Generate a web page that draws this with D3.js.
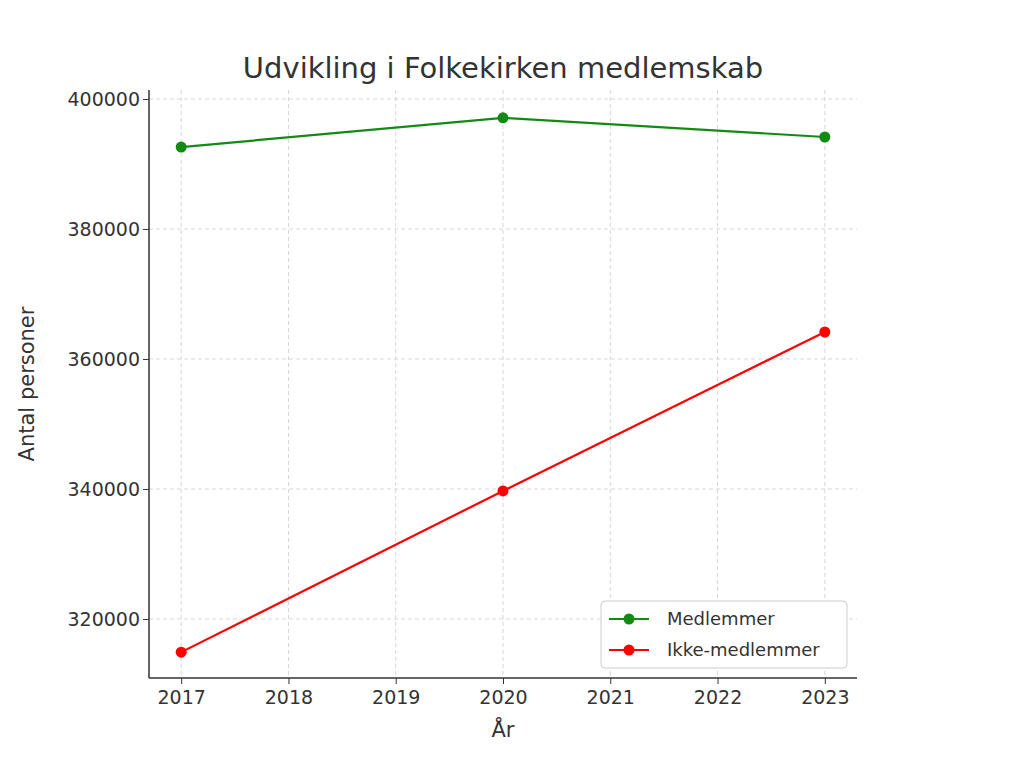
<!DOCTYPE html>
<html>
<head>
<meta charset="utf-8">
<script src="https://cdn.jsdelivr.net/npm/d3@7"></script>
<style>
  body { margin: 0; background: #fff; }
  text { font-family: "DejaVu Sans", sans-serif; fill: #333; }
</style>
</head>
<body>
<svg id="chart" width="1018" height="768"></svg>
<script>
const years = [2017, 2020, 2023];
const medlemmer = [392600, 397100, 394150];
const ikkeMedlemmer = [314900, 339700, 364150];
const yTicks = [320000, 340000, 360000, 380000, 400000];
const xTicks = [2017, 2018, 2019, 2020, 2021, 2022, 2023];

const svg = d3.select("#chart");
const pLeft = 149, pRight = 857, pTop = 90, pBottom = 678;

const x = d3.scaleLinear().domain([2016.7, 2023.3]).range([pLeft, pRight]);
const y = d3.scaleLinear().domain([310920, 401380]).range([pBottom, pTop]);

// grid
svg.append("g").selectAll("line").data(xTicks).enter().append("line")
    .attr("x1", d => x(d)).attr("x2", d => x(d)).attr("y1", pTop).attr("y2", pBottom)
    .attr("stroke", "#ccc").attr("stroke-dasharray", "4,3").attr("stroke-width", 0.8);
svg.append("g").selectAll("line").data(yTicks).enter().append("line")
    .attr("y1", d => y(d)).attr("y2", d => y(d)).attr("x1", pLeft).attr("x2", pRight)
    .attr("stroke", "#ccc").attr("stroke-dasharray", "4,3").attr("stroke-width", 0.8);

// axes
const xAxis = svg.append("g").attr("transform", `translate(0,${pBottom})`)
    .call(d3.axisBottom(x).tickValues(xTicks).tickFormat(d3.format("d")).tickSize(6).tickSizeOuter(0));
const yAxis = svg.append("g").attr("transform", `translate(${pLeft},0)`)
    .call(d3.axisLeft(y).tickValues(yTicks).tickFormat(d3.format("d")).tickSize(6).tickSizeOuter(0));
[xAxis, yAxis].forEach(a => {
    a.selectAll("text").style("font-size", "19px").attr("fill", "#333");
    a.selectAll("line").attr("stroke", "#333");
    a.select(".domain").attr("stroke", "#333").attr("stroke-width", 1.5);
});
xAxis.select(".domain").attr("d", `M${pLeft},0H${pRight}`);
yAxis.select(".domain").attr("d", `M0,${pBottom}V${pTop}`);
xAxis.selectAll("text").attr("dy", "0.9em");

// labels
svg.append("text").attr("x", (pLeft + pRight) / 2).attr("y", 78).attr("text-anchor", "middle")
    .style("font-size", "29px").text("Udvikling i Folkekirken medlemskab");
svg.append("text").attr("x", (pLeft + pRight) / 2).attr("y", 737).attr("text-anchor", "middle")
    .style("font-size", "21px").text("År");
svg.append("text").attr("transform", `translate(34,${(pTop + pBottom) / 2}) rotate(-90)`)
    .attr("text-anchor", "middle").style("font-size", "21px").text("Antal personer");

// series
const series = [
    { name: "Medlemmer", values: medlemmer, color: "#138a13" },
    { name: "Ikke-medlemmer", values: ikkeMedlemmer, color: "#ff0000" }
];
const line = d3.line().x((d, i) => x(years[i])).y(d => y(d));
series.forEach(s => {
    svg.append("path").attr("d", line(s.values)).attr("fill", "none")
        .attr("stroke", s.color).attr("stroke-width", 2.2);
    svg.append("g").selectAll("circle").data(s.values).enter().append("circle")
        .attr("cx", (d, i) => x(years[i])).attr("cy", d => y(d)).attr("r", 5.5).attr("fill", s.color);
});

// legend
const lg = svg.append("g").attr("transform", "translate(601,601)");
lg.append("rect").attr("width", 246).attr("height", 67).attr("rx", 4)
    .attr("fill", "#fff").attr("stroke", "#ccc");
series.forEach((s, i) => {
    const cy = 18 + i * 31;
    lg.append("line").attr("x1", 8).attr("x2", 48).attr("y1", cy).attr("y2", cy)
        .attr("stroke", s.color).attr("stroke-width", 2.2);
    lg.append("circle").attr("cx", 28).attr("cy", cy).attr("r", 5.5).attr("fill", s.color);
    lg.append("text").attr("x", 66).attr("y", cy + 6).style("font-size", "18px").text(s.name);
});
</script>
</body>
</html>
